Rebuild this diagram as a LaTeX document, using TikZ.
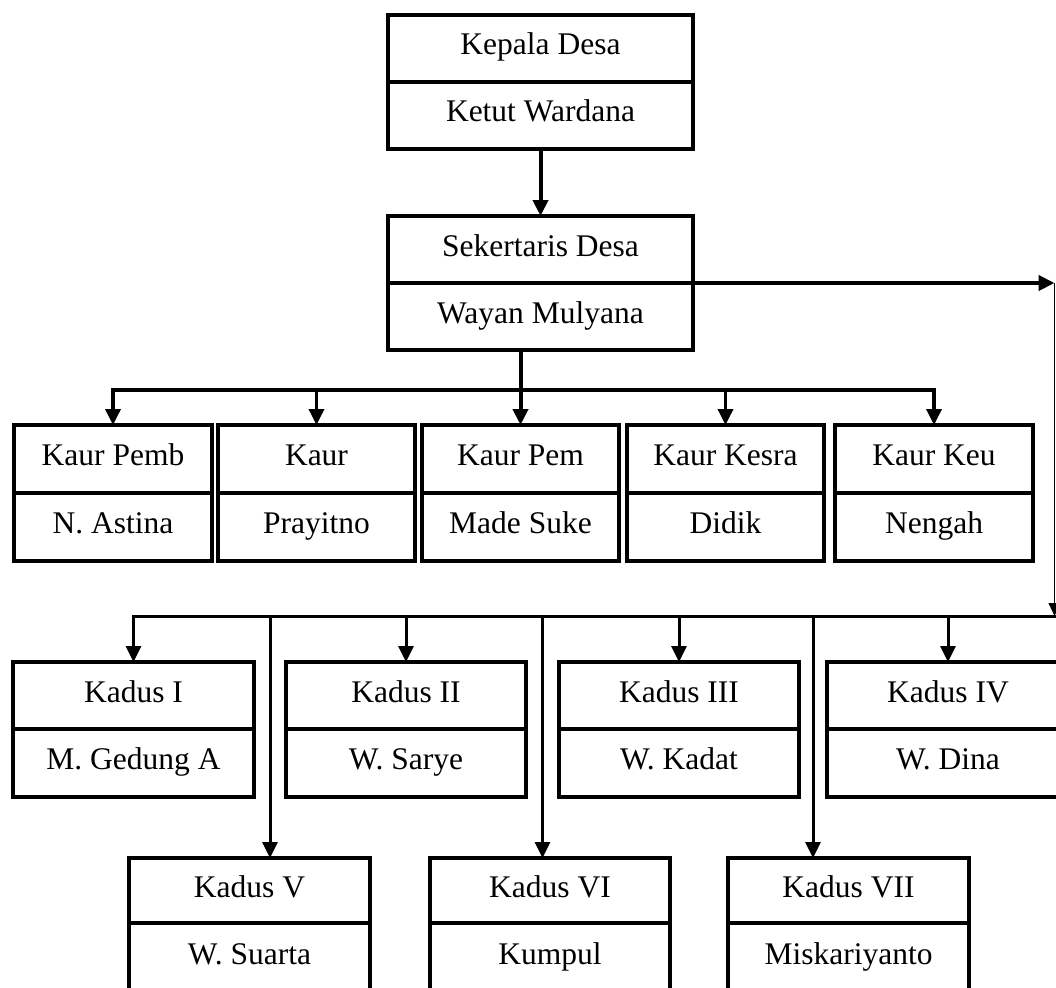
\documentclass[tikz,border=0pt]{standalone}
\usepackage{fontspec}
\setmainfont{Liberation Serif}
\usetikzlibrary{positioning,calc,arrows.meta}

\tikzset{
  part/.style={draw, line width=4pt, outer sep=0pt, inner sep=0pt,
    minimum height=67pt, text height=21pt, text depth=8pt,
    font=\fontsize{31.5}{36}\selectfont},
  head/.style={part, anchor=north west},
  link/.style={line width=4pt, line cap=rect},
  arr/.style={link, -{Triangle[length=16pt,width=15pt]}},
}

\begin{document}
\begin{tikzpicture}[x=1pt,y=-1pt]
  \useasboundingbox (0,0) rectangle (1056,987);
  \clip (0,0) rectangle (1056,987);

  % kepala desa dan sekertaris
  \node[head, minimum width=305pt] (kd) at (388,15) {Kepala Desa};
  \node[part, minimum width=305pt, below=0pt of kd] (kdn) {Ketut Wardana};
  \node[head, minimum width=305pt] (sk) at (388,216) {Sekertaris Desa};
  \node[part, minimum width=305pt, below=0pt of sk] (skn) {Wayan Mulyana};

  % kaur
  \node[head, minimum width=198pt, minimum height=68pt] (k1) at (14,425) {Kaur Pemb};
  \node[part, minimum width=198pt, minimum height=68pt, below=0pt of k1] (k1n) {N. Astina};
  \node[head, minimum width=197pt, minimum height=68pt] (k2) at (218,425) {Kaur};
  \node[part, minimum width=197pt, minimum height=68pt, below=0pt of k2] (k2n) {Prayitno};
  \node[head, minimum width=197pt, minimum height=68pt] (k3) at (422,425) {Kaur Pem};
  \node[part, minimum width=197pt, minimum height=68pt, below=0pt of k3] (k3n) {Made Suke};
  \node[head, minimum width=197pt, minimum height=68pt] (k4) at (627,425) {Kaur Kesra};
  \node[part, minimum width=197pt, minimum height=68pt, below=0pt of k4] (k4n) {Didik};
  \node[head, minimum width=198pt, minimum height=68pt] (k5) at (835,425) {Kaur Keu};
  \node[part, minimum width=198pt, minimum height=68pt, below=0pt of k5] (k5n) {Nengah};

  % kadus baris atas
  \node[head, minimum width=241pt] (d1) at (13,662) {Kadus I};
  \node[part, minimum width=241pt, minimum height=68pt, below=0pt of d1] (d1n) {M. Gedung A};
  \node[head, minimum width=240pt] (d2) at (286,662) {Kadus II};
  \node[part, minimum width=240pt, minimum height=68pt, below=0pt of d2] (d2n) {W. Sarye};
  \node[head, minimum width=240pt] (d3) at (559,662) {Kadus III};
  \node[part, minimum width=240pt, minimum height=68pt, below=0pt of d3] (d3n) {W. Kadat};
  \node[head, minimum width=242pt] (d4) at (827,662) {Kadus IV};
  \node[part, minimum width=242pt, minimum height=68pt, below=0pt of d4] (d4n) {W. Dina};

  % kadus baris bawah
  \node[head, minimum width=241pt, minimum height=65pt] (d5) at (129,858) {Kadus V};
  \node[part, minimum width=241pt, minimum height=70pt, below=0pt of d5] (d5n) {W. Suarta};
  \node[head, minimum width=240pt, minimum height=65pt] (d6) at (430,858) {Kadus VI};
  \node[part, minimum width=240pt, minimum height=70pt, below=0pt of d6] (d6n) {Kumpul};
  \node[head, minimum width=241pt, minimum height=65pt] (d7) at (728,858) {Kadus VII};
  \node[part, minimum width=241pt, minimum height=70pt, below=0pt of d7] (d7n) {Miskariyanto};

  \draw[arr] (kdn) -- (sk);

  % garis ke kaur
  \coordinate (kaurbus) at (0,390);
  \draw[arr] (skn.south -| k3.north) -- (k3);
  \draw[link, line width=3.5pt] (k1.north |- kaurbus) -- (k5.north |- kaurbus);
  \draw[arr, line width=3.5pt] (k1.north |- kaurbus) -- (k1);
  \draw[arr, line width=3.5pt] (k2.north |- kaurbus) -- (k2);
  \draw[arr, line width=3.5pt] (k4.north |- kaurbus) -- (k4);
  \draw[arr, line width=3.5pt] (k5.north |- kaurbus) -- (k5);

  % garis ke kadus
  \coordinate (rc) at (1054.5,0);
  \coordinate (kadusbus) at (0,616);
  \draw[arr] (sk.south east) -- (sk.south east -| rc);
  \draw[line width=1pt, -{Triangle[length=13pt,width=12pt]}] (sk.south east -| rc) -- (rc |- kadusbus);
  \draw[link, line width=3pt] (rc |- kadusbus) -- (d1.north |- kadusbus);
  \draw[arr, line width=3pt] (d1.north |- kadusbus) -- (d1);
  \draw[arr, line width=3pt] (d2.north |- kadusbus) -- (d2);
  \draw[arr, line width=3pt] (d3.north |- kadusbus) -- (d3);
  \draw[arr, line width=3pt] (d4.north |- kadusbus) -- (d4);
  \coordinate (g1) at ($(d1.east)!.5!(d2.west)$);
  \coordinate (g2) at ($(d2.east)!.5!(d3.west)$);
  \coordinate (g3) at ($(d3.east)!.5!(d4.west)$);
  \draw[arr, line width=3pt] (g1 |- kadusbus) -- (g1 |- d5.north);
  \draw[arr, line width=3pt] (g2 |- kadusbus) -- (g2 |- d6.north);
  \draw[arr, line width=3pt] (g3 |- kadusbus) -- (g3 |- d7.north);
\end{tikzpicture}
\end{document}
